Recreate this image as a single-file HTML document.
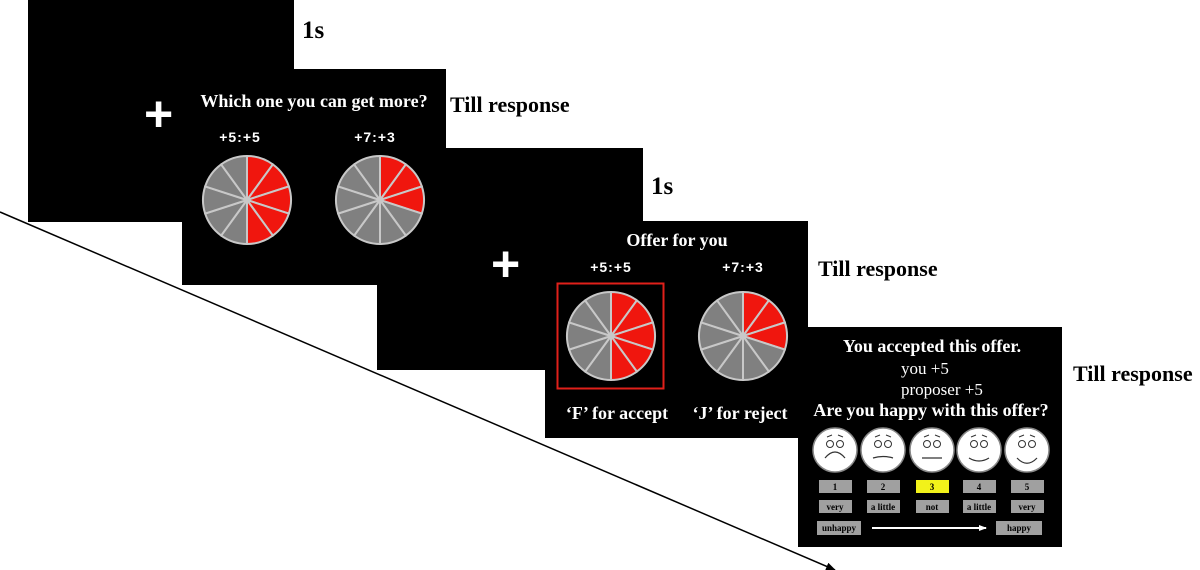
<!DOCTYPE html>
<html><head><style>
html,body{margin:0;padding:0;background:#fff;width:1200px;height:570px;overflow:hidden}
svg{display:block}
.t{font-family:"Liberation Serif",serif;font-weight:bold}
</style></head><body>
<svg id="s" width="1200" height="570" viewBox="0 0 1200 570" xmlns="http://www.w3.org/2000/svg">
<defs><marker id="ah" markerWidth="10" markerHeight="8" refX="9" refY="4" orient="auto" markerUnits="userSpaceOnUse"><path d="M0,0 L10,4 L0,8 z" fill="#000"/></marker>
<marker id="wh" markerWidth="8" markerHeight="6" refX="7" refY="3" orient="auto" markerUnits="userSpaceOnUse"><path d="M0,0 L8,3 L0,6 z" fill="#fff"/></marker></defs>
<line x1="0" y1="212" x2="835" y2="570" stroke="#000" stroke-width="1.5" marker-end="url(#ah)"/>
<rect x="28" y="0" width="266" height="222" fill="#000"/>
<text x="144" y="131" fill="#fff" font-family="Liberation Sans" font-weight="bold" font-size="50">+</text>
<text x="302" y="38" class="t" font-size="25">1s</text>
<rect x="182" y="69" width="264" height="216" fill="#000"/>
<text x="314" y="107" class="t" font-size="18" fill="#fff" text-anchor="middle">Which one you can get more?</text>
<text x="240" y="142" font-family="Liberation Sans" font-weight="bold" font-size="14" letter-spacing="1" fill="#fff" text-anchor="middle">+5:+5</text>
<text x="375" y="142" font-family="Liberation Sans" font-weight="bold" font-size="14" letter-spacing="1" fill="#fff" text-anchor="middle">+7:+3</text>
<text x="450" y="112" class="t" font-size="22">Till response</text>
<rect x="377" y="148" width="266" height="222" fill="#000"/>
<text x="491" y="281" fill="#fff" font-family="Liberation Sans" font-weight="bold" font-size="50">+</text>
<text x="651" y="194" class="t" font-size="25">1s</text>
<rect x="545" y="221" width="263" height="217" fill="#000"/>
<text x="677" y="246" class="t" font-size="18" fill="#fff" text-anchor="middle">Offer for you</text>
<text x="611" y="272" font-family="Liberation Sans" font-weight="bold" font-size="14" letter-spacing="1" fill="#fff" text-anchor="middle">+5:+5</text>
<text x="743" y="272" font-family="Liberation Sans" font-weight="bold" font-size="14" letter-spacing="1" fill="#fff" text-anchor="middle">+7:+3</text>
<rect x="557.5" y="283.5" width="106" height="105" fill="none" stroke="#e0201a" stroke-width="2"/>
<text x="617" y="419" class="t" font-size="18" fill="#fff" text-anchor="middle">‘F’ for accept</text>
<text x="740" y="419" class="t" font-size="18" fill="#fff" text-anchor="middle">‘J’ for reject</text>
<text x="818" y="276" class="t" font-size="22">Till response</text>
<rect x="798" y="327" width="264" height="220" fill="#000"/>
<text x="932" y="352" class="t" font-size="18" fill="#fff" text-anchor="middle">You accepted this offer.</text>
<text x="901" y="374" font-family="Liberation Serif" font-size="17" fill="#fff">you +5</text>
<text x="901" y="395" font-family="Liberation Serif" font-size="17" fill="#fff">proposer +5</text>
<text x="931" y="416" class="t" font-size="18" fill="#fff" text-anchor="middle">Are you happy with this offer?</text>
<line x1="872" y1="528" x2="986" y2="528" stroke="#fff" stroke-width="2" marker-end="url(#wh)"/>
<text x="1073" y="381" class="t" font-size="22">Till response</text>
</svg>
<script>
const NS="http://www.w3.org/2000/svg",s=document.getElementById('s');
function el(t,a,txt){const e=document.createElementNS(NS,t);for(const k in a)e.setAttribute(k,a[k]);if(txt)e.textContent=txt;s.appendChild(e);return e;}
function pie(cx,cy,r,nRed){
 for(let i=0;i<10;i++){
  const a0=(i*36-90)*Math.PI/180,a1=((i+1)*36-90)*Math.PI/180;
  const x0=cx+r*Math.cos(a0),y0=cy+r*Math.sin(a0),x1=cx+r*Math.cos(a1),y1=cy+r*Math.sin(a1);
  el('path',{d:`M${cx},${cy}L${x0},${y0}A${r},${r} 0 0 1 ${x1},${y1}Z`,fill:i<nRed?'#f0160e':'#808080',stroke:'#c8c8c8','stroke-width':2});
 }
}
pie(247,200,44,5);pie(380,200,44,3);pie(611,336,44,5);pie(743,336,44,3);
const fx=[835,883,932,979,1027],mouth=[-8,-2,0,4,7];
fx.forEach((x,i)=>{const y=450;
 el('circle',{cx:x,cy:y,r:22,fill:'#fff',stroke:'#888','stroke-width':1.5});
 el('circle',{cx:x-5,cy:y-6,r:3.5,fill:'none',stroke:'#333'});
 el('circle',{cx:x+5,cy:y-6,r:3.5,fill:'none',stroke:'#333'});
 el('path',{d:`M${x-10},${y+8}Q${x},${y+8+mouth[i]*1.5} ${x+10},${y+8}`,fill:'none',stroke:'#333','stroke-width':1.2});
 el('path',{d:`M${x-8},${y-13}l5,-2 M${x+3},${y-15}l5,2`,fill:'none',stroke:'#333','stroke-width':1});
 const bx=x-16;
 el('rect',{x:bx,y:480,width:33,height:13,fill:i==2?'#f2f21a':'#a0a0a0'});
 el('text',{x:x,y:490,'font-family':'Liberation Serif','font-weight':'bold','font-size':9,'text-anchor':'middle',fill:'#000'},String(i+1));
 el('rect',{x:bx,y:500,width:33,height:13,fill:'#a0a0a0'});
 el('text',{x:x,y:510,'font-family':'Liberation Serif','font-weight':'bold','font-size':9,'text-anchor':'middle',fill:'#000'},['very','a little','not','a little','very'][i]);
});
el('rect',{x:817,y:521,width:44,height:14,fill:'#a0a0a0'});
el('text',{x:839,y:531,'font-family':'Liberation Serif','font-weight':'bold','font-size':9,'text-anchor':'middle'},'unhappy');
el('rect',{x:996,y:521,width:46,height:14,fill:'#a0a0a0'});
el('text',{x:1019,y:531,'font-family':'Liberation Serif','font-weight':'bold','font-size':9,'text-anchor':'middle'},'happy');
</script>
</body></html>
